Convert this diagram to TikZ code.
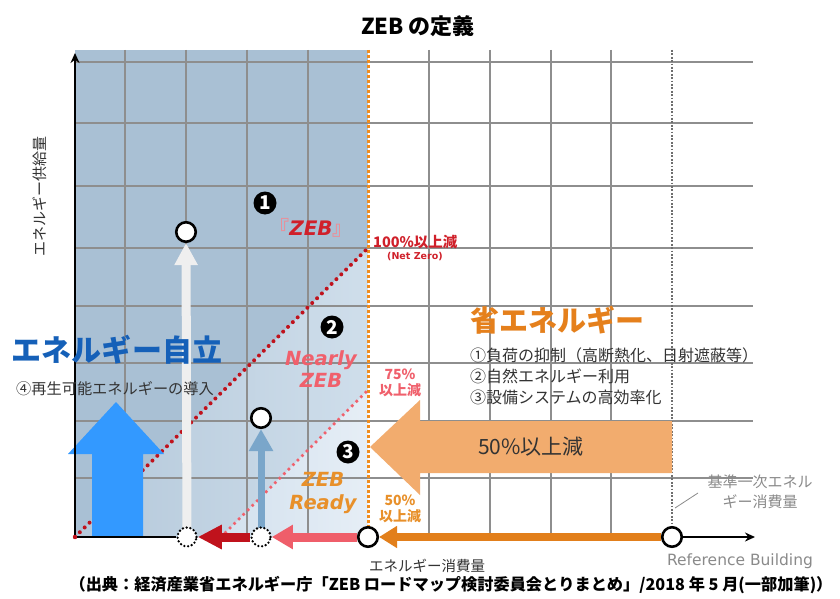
\documentclass[tikz,border=0pt]{standalone}
\usepackage{fontspec}
\setmainfont{Noto Sans CJK JP}
\newfontfamily\dv{DejaVu Sans}
\usetikzlibrary{arrows.meta}
\newcommand\fsz[1]{\fontsize{#1}{#1}\selectfont}
\definecolor{bluedark}{HTML}{A9C0D4}
\definecolor{bluemidL}{HTML}{B4C8DA}
\definecolor{bluemidR}{HTML}{CFDEEB}
\definecolor{bluelightL}{HTML}{D3E1EE}
\definecolor{bluelightR}{HTML}{E6EEF6}
\definecolor{gridc}{HTML}{8E8E8E}
\definecolor{zorange}{HTML}{F08C1E}
\definecolor{refgray}{HTML}{6E6E6E}
\definecolor{redd}{HTML}{C0121C}
\definecolor{pinkr}{HTML}{EF5E6A}
\definecolor{whitearr}{HTML}{EFEFEF}
\definecolor{smallblue}{HTML}{7AA6CA}
\definecolor{bigblue}{HTML}{3399FF}
\definecolor{bigorange}{HTML}{F2AC6E}
\definecolor{xorange}{HTML}{E27F1B}
\definecolor{txtblue}{HTML}{1560B8}
\definecolor{txtorange}{HTML}{E5801C}
\definecolor{txtdark}{HTML}{333333}
\definecolor{txtgray}{HTML}{8A8A8A}
\definecolor{zebred}{HTML}{D0202A}
\definecolor{zebpink}{HTML}{E8909A}
\definecolor{nearlyc}{HTML}{F0606C}
\definecolor{readyc}{HTML}{E8902A}
\pgfdeclarelayer{bg}
\pgfdeclarelayer{mid}
\pgfsetlayers{bg,mid,main}
\begin{document}
\begin{tikzpicture}[x=1pt,y=-1pt,
  gridl/.style={draw=gridc, line width=1.2pt},
  ring/.style={circle, draw=black, line width=2.6pt, fill=white, minimum size=19.5pt, inner sep=0pt},
  dring/.style={circle, draw=black, line width=2.6pt, dash pattern=on 0pt off 3.8pt, line cap=round, fill=white, minimum size=19pt, inner sep=0pt},
  numc/.style={circle, fill=black, text=white, minimum size=23pt, inner sep=0pt, font=\rmfamily\bfseries\fsz{19}},
  axisl/.style={draw=black, line width=1.8pt},
  lbl/.style={inner sep=0pt, text=txtdark},
]
\useasboundingbox (0,0) rectangle (840,599);

% named points
\coordinate (O) at (75,537);
\coordinate (ytop) at (75,53);
\coordinate (xend) at (755,537);
\coordinate (n100) at (368,248);
\coordinate (s75) at (221,537);
\coordinate (n75) at (368,390);

% circles
\node[ring] (c1) at (186,232) {};
\node[ring] (c2) at (261,418) {};
\node[dring] (d1) at (187,537) {};
\node[dring] (d2) at (261,537) {};
\node[ring] (c3) at (368,537) {};
\node[ring] (r0) at (672,537) {};

\begin{pgfonlayer}{bg}
  \fill[white] (0,0) rectangle (840,599);
  \fill[bluedark] (75,50) rectangle (368,537);
  \shade[left color=bluemidL, right color=bluemidR] (O) -- (n100) -- (368,537) -- cycle;
  \shade[left color=bluelightL, right color=bluelightR] (s75) -- (n75) -- (368,537) -- cycle;
  \foreach \x in {125,186,247,308,429,490,551,611}
    \draw[gridl] (\x,50) -- (\x,537);
  \foreach \y in {62,123,186,248,306,363,421,478}
    \draw[gridl] (75,\y) -- (753,\y);
  \draw[zorange, line width=3pt, dash pattern=on 2.6pt off 2.4pt] (368,50) -- (368,537);
  \draw[refgray, line width=2.4pt, dash pattern=on 1.8pt off 1.6pt] (672,50) -- (672,537);
  \draw[redd, line width=4pt, line cap=round, dash pattern=on 0pt off 6.8pt] (O) -- (n100);
  \draw[nearlyc, line width=3.6pt, line cap=round, dash pattern=on 0pt off 6.4pt] (s75) -- (n75);
\end{pgfonlayer}

\begin{pgfonlayer}{mid}
  % vertical arrows
  \draw[whitearr, line width=9pt, -{Triangle[width=22pt,length=22pt]}] (d1.center) -- (c1.south);
  \draw[smallblue, line width=7pt, -{Triangle[width=23pt,length=22pt]}] (d2.center) -- (c2.south);
  % big blue arrow
  \fill[bigblue] (92,537) -- (92,454) -- (68,454) -- (116,402) -- (164,454) -- (143,454) -- (143,537) -- cycle;
  % big orange arrow
  \fill[bigorange] (672,421) -- (420,421) -- (420,400) -- (370,447) -- (420,495) -- (420,473) -- (672,473) -- cycle;
  % x-axis arrows
  \draw[xorange, line width=8pt, -{Triangle[width=21pt,length=18pt]}] (r0.west) -- (c3.east);
  \draw[pinkr, line width=9pt, -{Triangle[width=23pt,length=21pt]}] (c3.west) -- (d2.east);
  \draw[redd, line width=9pt, -{Triangle[width=23pt,length=24pt]}] (d2.west) -- (d1.east);
  % axes
  \draw[axisl, -{Stealth[length=10pt,width=9pt]}] (O) -- (ytop);
  \draw[axisl] (O) -- (d1.west);
  \draw[axisl, -{Stealth[length=10pt,width=9pt]}] (r0.east) -- (xend);
  \fill[redd] (O) circle (2.2pt);
  % leader line of reference label
  \coordinate (k1) at (675,508);
  \coordinate (k2) at (698,493);
  \draw[txtgray, line width=0.8pt] (k1) -- (k2);
\end{pgfonlayer}

% title
\node[lbl, text=black, font=\bfseries\fsz{22}] (title) at (418,26) {ZEB の定義};
% axis labels
\node[lbl, rotate=90, font=\fsz{15}] (ylab) at (40,196) {エネルギー供給量};
\node[lbl, font=\fsz{14.5}] (xlab) at (427,566) {エネルギー消費量};
\node[lbl, text=txtgray, font=\dv\fsz{15.5}] (refb) at (740,561) {Reference Building};
\node[lbl, text=txtgray, font=\fsz{15}, align=center] (kijun) at (760,492) {基準一次エネル\\[5pt]ギー消費量};

% left block
\node[lbl, text=txtblue, font=\bfseries\fsz{30}] (jiritsu) at (117,350) {エネルギー自立};
\node[lbl, font=\fsz{15.2}] (saisei) at (115,389) {④再生可能エネルギーの導入};

% right block
\node[lbl, text=txtorange, font=\bfseries\fsz{29}, anchor=west] (shoene) at (470,320) {省エネルギー};
\node[lbl, font=\fsz{16}, anchor=west] (it1) at (470,355) {①負荷の抑制（高断熱化、日射遮蔽等）};
\node[lbl, font=\fsz{16}, anchor=west] (it2) at (470,376) {②自然エネルギー利用};
\node[lbl, font=\fsz{16}, anchor=west] (it3) at (470,397) {③設備システムの高効率化};
\node[lbl, font=\fsz{21}] (t50) at (531,447) {50\%以上減};

% numbers
\node[numc] (n1) at (265,203) {1};
\node[numc] (n2) at (332,327) {2};
\node[numc] (n3) at (348,452) {3};

% ZEB labels
\node[lbl, font=\bfseries\fsz{20}] (zeb) at (311,228) {\textcolor{zebpink}{『}\textcolor{zebred}{\dv\bfseries\itshape ZEB}\textcolor{zebpink}{』}};
\node[lbl, text=zebred, font=\bfseries\fsz{14.5}, anchor=west] (p100) at (373,242) {100\%以上減};
\node[lbl, text=zebred, font=\dv\bfseries\fsz{9.5}, anchor=west] (netz) at (387,257) {(Net Zero)};

\node[lbl, text=nearlyc, font=\dv\bfseries\itshape\fsz{19.5}, align=center] (nearly) at (321,369) {Nearly\\[3pt]ZEB};
\node[lbl, text=nearlyc, font=\bfseries\fsz{14}, align=center] (p75) at (400,383) {75\%\\[2pt]以上減};

\node[lbl, text=readyc, font=\dv\bfseries\itshape\fsz{19.5}, align=center] (ready) at (323,493) {ZEB\\[3pt]Ready};
\node[lbl, text=readyc, font=\bfseries\fsz{14}, align=center] (p50) at (400,509) {50\%\\[2pt]以上減};

% source
\node[lbl, text=black, font=\bfseries\fsz{16.2}] (src) at (451,585) {（出典：経済産業省エネルギー庁「ZEB ロードマップ検討委員会とりまとめ」/2018 年 5 月(一部加筆)）};
\end{tikzpicture}
\end{document}
